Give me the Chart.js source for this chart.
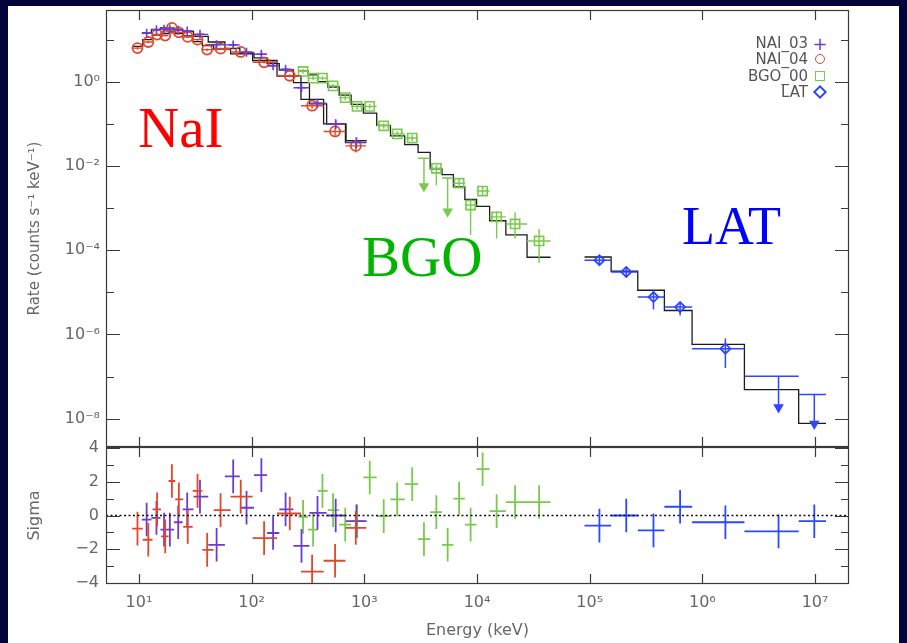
<!DOCTYPE html>
<html>
<head>
<meta charset="utf-8">
<script src="https://cdn.jsdelivr.net/npm/chart.js@4.4.1/dist/chart.umd.min.js"></script>
<style>
  html, body { margin: 0; padding: 0; width: 907px; height: 643px; overflow: hidden; background: #03033a; }
  #sheet { position: absolute; left: 8px; top: 6px; width: 891px; height: 637px; background: #fff; }
  canvas { position: absolute; left: 0; }
  #topChart { top: -20px; }
  #botChart { top: 427px; }
  .tag { position: absolute; font-family: "Liberation Serif", "DejaVu Serif", serif; line-height: 1; white-space: nowrap; }
  #legend { position: absolute; right: 79px; top: 35px; font: 15px "DejaVu Sans", sans-serif; color: #555; }
  #legend .row { display: flex; justify-content: flex-end; align-items: center; height: 16.3px; }
  #legend .sym { width: 16px; margin-left: 4px; display: flex; justify-content: center; align-items: center; }
</style>
</head>
<body>
<div id="sheet"></div>
<canvas id="topChart" width="907" height="497"></canvas>
<canvas id="botChart" width="907" height="216"></canvas>

<div class="tag" style="left:138px; top:99px; font-size:57px; color:#ff0000;">NaI</div>
<div class="tag" style="left:362px; top:228px; font-size:57px; color:#00b400;">BGO</div>
<div class="tag" style="left:682px; top:199px; font-size:54px; color:#0000ff;">LAT</div>

<div id="legend">
  <div class="row"><span>NAI_03</span><span class="sym" style="color:#6a3cd4;font-size:18px;">+</span></div>
  <div class="row"><span>NAI_04</span><span class="sym"><span style="width:8px;height:8px;border:1.4px solid #e2472b;border-radius:50%;"></span></span></div>
  <div class="row"><span>BGO_00</span><span class="sym"><span style="width:8px;height:8px;border:1.4px solid #79c94c;"></span></span></div>
  <div class="row"><span>LAT</span><span class="sym"><span style="width:6px;height:6px;border:2px solid #2d46ff;transform:rotate(45deg);"></span></span></div>
</div>

<script>
// axis ranges and tick decades
const X_MIN = 5.1, X_MAX = 2.0e7;
const RATE_MIN = 2.12e-9, RATE_MAX = 50.6;
const SIG_MIN = -4.07, SIG_MAX = 4.07;
const energyDecades = [1, 2, 3, 4, 5, 6, 7];
const rateDecades = [-8, -7, -6, -5, -4, -3, -2, -1, 0, 1];
const sigmaTicks = [-4, -3, -2, -1, 0, 1, 2, 3, 4];

// NAI_03 (purple)
const n03E = [11.7, 14.3, 16.7, 18.8, 22.3, 26.8, 34.8, 48.9, 68.6, 90.1, 122, 155, 200, 277, 384, 557, 851];
const n03Edges = [10.6, 12.9, 15.5, 17.7, 20.5, 24.4, 30.5, 41.2, 57.9, 78.6, 105, 137, 176, 235, 326, 463, 688, 1050];
const n03Rate = [14.2, 17.2, 17.6, 17.8, 16.8, 16.1, 13.4, 7.6, 7.5, 5.0, 4.5, 2.4, 1.97, 0.72, 0.31, 0.1, 0.037];
const n03Lo = [13.4, 16.3, 16.7, 16.9, 15.9, 15.2, 12.6, 7.1, 6.9, 4.6, 4.1, 2.2, 1.8, 0.62, 0.26, 0.075, 0.026];
const n03Hi = [15, 18.1, 18.5, 18.7, 17.7, 17, 14.2, 8.1, 8.1, 5.4, 4.9, 2.6, 2.15, 0.82, 0.36, 0.125, 0.048];
const n03Model = [14.5, 17.5, 19, 19, 17.5, 15.5, 12, 8.8, 6.2, 4.8, 3.7, 2.7, 1.9, 0.95, 0.3, 0.1, 0.04];
const n03Sigma = [-0.24, -0.14, -0.84, -0.84, -0.4, 0.36, 1.12, -1.74, 2.32, 0.46, 2.4, -1.04, 0.36, -1.8, 0.16, 0, -0.34];

// NAI_04 (red)
const n04E = [9.7, 12.1, 14.5, 17.1, 19.6, 22.6, 27.1, 33.1, 40.3, 53, 80, 129, 218, 344, 550, 840];
const n04Edges = [8.7, 10.8, 13.2, 15.7, 18.3, 21, 24.7, 30, 36.5, 46, 65, 102, 168, 274, 435, 680, 1040];
const n04Rate = [6.3, 8.8, 13.2, 12.5, 19, 14.9, 11.6, 10, 5.8, 6.1, 5.1, 2.9, 1.39, 0.27, 0.066, 0.030];
const n04Lo = [5.8, 8.2, 12.4, 11.8, 18, 14.1, 10.9, 9.4, 5.4, 5.7, 4.8, 2.7, 1.28, 0.23, 0.053, 0.021];
const n04Hi = [6.8, 9.4, 14, 13.2, 20, 15.7, 12.3, 10.6, 6.2, 6.5, 5.4, 3.1, 1.5, 0.31, 0.079, 0.039];
const n04Model = [6.9, 10, 12.8, 14, 16, 14, 12.3, 9, 7.2, 6, 4.6, 3.2, 1.37, 0.38, 0.1, 0.036];
const n04Sigma = [-0.78, -1.44, 0.36, -1.24, 2.05, 0.96, -0.68, 1.46, -2.04, 0.32, 1.12, -1.34, 0.12, -3.33, -2.69, -0.74];

// BGO_00 (green), ul = upper limit
const bgoE = [286, 351, 425, 528, 677, 862, 1117, 1486, 1958, 2660, 3383, 4357, 5488, 6937, 8770, 11210, 14930, 21770, 35550];
const bgoEdges = [260, 317, 386, 474, 598, 764, 981, 1288, 1706, 2282, 3000, 3840, 4890, 6170, 7800, 9915, 12940, 18030, 27800, 45000];
const bgoRate = [1.76, 1.22, 1.22, 0.80, 0.42, 0.26, 0.26, 0.090, 0.058, 0.046, 0.0152, 0.0088, 0.0052, 0.0039, 0.00118, 0.00254, 6.2e-4, 4.2e-4, 1.66e-4];
const bgoLo = [1.55, 1.08, 1.1, 0.71, 0.37, 0.22, 0.23, 0.078, 0.049, 0.039, 0.0033, 0.0035, 8.3e-4, 0.0030, 2.3e-4, 0.0019, 1.9e-4, 1.9e-4, 5e-5];
const bgoHi = [2.0, 1.37, 1.36, 0.9, 0.48, 0.3, 0.3, 0.103, 0.068, 0.055, 0.0152, 0.0106, 0.0052, 0.0052, 0.0016, 0.0033, 8.3e-4, 8e-4, 3.2e-4];
const bgoUL = [0, 0, 0, 0, 0, 0, 0, 0, 0, 0, 1, 0, 1, 0, 0, 0, 0, 0, 0];
const bgoModel = [1.78, 1.45, 1.0, 0.75, 0.48, 0.29, 0.18, 0.092, 0.052, 0.032, 0.021, 0.0085, 0.0062, 0.0032, 0.0016, 0.0011, 5.0e-4, 2.3e-4, 6.8e-5];
const bgoSigma = [-0.08, -0.84, 1.46, 0.32, -0.54, -0.34, 2.26, -0.04, 0.96, 1.86, -1.40, 0.2, -1.74, 1.0, -0.54, 2.75, 0.26, 0.8, 0.8];

// LAT (blue)
const latE = [1.22e5, 2.11e5, 3.68e5, 6.34e5, 1.60e6, 4.74e6, 9.84e6];
const latEdges = [9.0e4, 1.55e5, 2.67e5, 4.6e5, 8.1e5, 2.36e6, 7.15e6, 1.25e7];
const latRate = [5.78e-5, 3.04e-5, 7.7e-6, 4.47e-6, 4.57e-7, 1.02e-7, 3.73e-8];
const latLo = [4.6e-5, 2.3e-5, 3.9e-6, 2.8e-6, 1.6e-7, 1.86e-8, 7.5e-9];
const latHi = [7.2e-5, 4.0e-5, 1.12e-5, 5.9e-6, 8.0e-7, 1.02e-7, 3.73e-8];
const latUL = [0, 0, 0, 0, 0, 1, 1];
const latModel = [6.9e-5, 3.16e-5, 1.12e-5, 3.7e-6, 5.8e-7, 4.9e-8, 7.7e-9];
const latSigma = [-0.6, 0, -0.88, 0.52, -0.4, -0.94, -0.34];

const C_N03 = '#6a3cd4', C_N04 = '#e2472b', C_BGO = '#79c94c', C_LAT = '#2d46ff', C_MODEL = '#1c1c1c';

const SUP = { '-': '⁻', '0': '⁰', '1': '¹', '2': '²', '3': '³', '4': '⁴', '5': '⁵', '6': '⁶', '7': '⁷', '8': '⁸', '9': '⁹' };
const sup = n => String(n).split('').map(c => SUP[c]).join('');

Chart.defaults.font.family = '"DejaVu Sans", sans-serif';
Chart.defaults.animation = false;

// horizontal bin bars, one segment per bin, broken by null points
function hBars(edges, vals) {
  const pts = [];
  vals.forEach((v, i) => {
    pts.push({ x: edges[i], y: v }, { x: edges[i + 1], y: v }, { x: edges[i + 1], y: null });
  });
  return pts;
}
// vertical error bars
function vBars(xs, lo, hi) {
  const pts = [];
  xs.forEach((x, i) => {
    pts.push({ x: x, y: lo[i] }, { x: x, y: hi[i] }, { x: x, y: null });
  });
  return pts;
}
// histogram steps for the model
function steps(edges, vals) {
  const pts = vals.map((v, i) => ({ x: edges[i], y: v }));
  pts.push({ x: edges[edges.length - 1], y: vals[vals.length - 1] });
  return pts;
}
// pick points; keep=true returns only the upper limits
function points(xs, ys, flags, keep = false) {
  const pts = [];
  xs.forEach((x, i) => { if (!!(flags && flags[i]) === keep) pts.push({ x: x, y: ys[i] }); });
  return pts;
}

function lineSet(data, color, width, extra) {
  return Object.assign({ data: data, borderColor: color, borderWidth: width, pointRadius: 0, fill: false, tension: 0, spanGaps: false }, extra || {});
}
function markerSet(data, color, style, radius, extra) {
  return Object.assign({ data: data, showLine: false, pointStyle: style, pointRadius: radius, borderColor: color,
    pointBorderColor: color, pointBackgroundColor: 'rgba(0,0,0,0)', pointBorderWidth: 1.6 }, extra || {});
}

// frame with inward ticks on all four sides
const framePlugin = {
  id: 'frame',
  afterDatasetsDraw(chart, args, opts) {
    const { ctx, chartArea: a } = chart;
    const xs = chart.scales.x, ys = chart.scales.y;
    ctx.save();
    ctx.strokeStyle = '#3a3a3a';
    ctx.lineWidth = 1.2;
    ctx.strokeRect(a.left + 0.5, a.top + 0.5, a.width - 1, a.height - 1);
    ctx.beginPath();
    xs.ticks.forEach(t => {
      const px = Math.round(xs.getPixelForValue(t.value)) + 0.5;
      ctx.moveTo(px, a.top); ctx.lineTo(px, a.top + opts.xLen);
      ctx.moveTo(px, a.bottom); ctx.lineTo(px, a.bottom - opts.xLen);
    });
    ys.ticks.forEach(t => {
      const py = Math.round(ys.getPixelForValue(t.value)) + 0.5;
      const len = t.label ? opts.yMajor : opts.yMinor;
      ctx.moveTo(a.left, py); ctx.lineTo(a.left + len, py);
      ctx.moveTo(a.right, py); ctx.lineTo(a.right - len, py);
    });
    ctx.stroke();
    ctx.restore();
  }
};

const tickFont = { size: 16 };
const grey = '#666';

// ---------- top panel: spectrum ----------
const topSets = [
  // error bars
  lineSet(hBars(n03Edges, n03Rate), C_N03, 1.3),
  lineSet(vBars(n03E, n03Lo, n03Hi), C_N03, 1.3),
  lineSet(hBars(n04Edges, n04Rate), C_N04, 1.4),
  lineSet(vBars(n04E, n04Lo, n04Hi), C_N04, 1.4),
  lineSet(hBars(bgoEdges, bgoRate), C_BGO, 1.4),
  lineSet(vBars(bgoE, bgoLo, bgoHi), C_BGO, 1.4),
  lineSet(hBars(latEdges, latRate), C_LAT, 1.5),
  lineSet(vBars(latE, latLo, latHi), C_LAT, 1.5),
  // markers
  markerSet(points(n03E, n03Rate), C_N03, 'cross', 4.5),
  markerSet(points(n04E, n04Rate), C_N04, 'circle', 5, { pointBorderWidth: 1.8 }),
  markerSet(points(bgoE, bgoRate, bgoUL), C_BGO, 'rect', 6.5),
  markerSet(points(latE, latRate, latUL), C_LAT, 'rectRot', 5, { pointBorderWidth: 1.8 }),
  // upper-limit arrow heads
  markerSet(points(bgoE, bgoLo, bgoUL, true), C_BGO, 'triangle', 4.5, { pointRotation: 180, pointBackgroundColor: C_BGO }),
  markerSet(points(latE, latLo, latUL, true), C_LAT, 'triangle', 4.5, { pointRotation: 180, pointBackgroundColor: C_LAT }),
  // models
  lineSet(steps(n03Edges, n03Model), C_MODEL, 1.3, { stepped: 'before' }),
  lineSet(steps(n04Edges, n04Model), C_MODEL, 1.3, { stepped: 'before' }),
  lineSet(steps(bgoEdges, bgoModel), C_MODEL, 1.3, { stepped: 'before' }),
  lineSet(steps(latEdges, latModel), C_MODEL, 1.3, { stepped: 'before' })
];

new Chart(document.getElementById('topChart'), {
  type: 'line',
  data: { datasets: topSets },
  plugins: [framePlugin],
  options: {
    responsive: false,
    layout: { autoPadding: false, padding: { left: 0, top: 30, right: 58, bottom: 30 } },
    plugins: { legend: { display: false }, tooltip: { enabled: false }, frame: { xLen: 10, yMajor: 14, yMinor: 8 } },
    scales: {
      x: {
        type: 'logarithmic', min: X_MIN, max: X_MAX,
        grid: { display: false, drawTicks: false }, border: { display: false },
        ticks: { display: false, autoSkip: false },
        afterBuildTicks: s => { s.ticks = energyDecades.map(e => ({ value: Math.pow(10, e) })); },
        afterFit: s => { s.height = 0; }
      },
      y: {
        type: 'logarithmic', min: RATE_MIN, max: RATE_MAX,
        grid: { display: false, drawTicks: false }, border: { display: false },
        afterBuildTicks: s => { s.ticks = rateDecades.map(e => ({ value: Math.pow(10, e) })); },
        ticks: {
          autoSkip: false, color: grey, font: tickFont, padding: 6,
          callback: v => { const e = Math.round(Math.log10(v)); return e % 2 === 0 ? '10' + sup(e) : ''; }
        },
        title: { display: true, text: 'Rate (counts s⁻¹ keV⁻¹)', color: grey, font: { size: 15 }, padding: { top: 26 } },
        afterFit: s => { s.width = 106; }
      }
    }
  }
});

// ---------- bottom panel: residuals ----------
const botSets = [
  lineSet([{ x: X_MIN, y: 0 }, { x: X_MAX, y: 0 }], '#111', 1.6, { borderDash: [2, 2.5] }),
  lineSet(hBars(n04Edges, n04Sigma), C_N04, 1.8),
  lineSet(vBars(n04E, n04Sigma.map(s => s - 1), n04Sigma.map(s => s + 1)), C_N04, 1.8),
  lineSet(hBars(n03Edges, n03Sigma), C_N03, 1.8),
  lineSet(vBars(n03E, n03Sigma.map(s => s - 1), n03Sigma.map(s => s + 1)), C_N03, 1.8),
  lineSet(hBars(bgoEdges, bgoSigma), C_BGO, 1.8),
  lineSet(vBars(bgoE, bgoSigma.map(s => s - 1), bgoSigma.map(s => s + 1)), C_BGO, 1.8),
  lineSet(hBars(latEdges, latSigma), C_LAT, 1.8),
  lineSet(vBars(latE, latSigma.map(s => s - 1), latSigma.map(s => s + 1)), C_LAT, 1.8)
];

new Chart(document.getElementById('botChart'), {
  type: 'line',
  data: { datasets: botSets },
  plugins: [framePlugin],
  options: {
    responsive: false,
    layout: { autoPadding: false, padding: { left: 0, top: 20, right: 58, bottom: 0 } },
    plugins: { legend: { display: false }, tooltip: { enabled: false }, frame: { xLen: 10, yMajor: 14, yMinor: 8 } },
    scales: {
      x: {
        type: 'logarithmic', min: X_MIN, max: X_MAX,
        grid: { display: false, drawTicks: false }, border: { display: false },
        afterBuildTicks: s => { s.ticks = energyDecades.map(e => ({ value: Math.pow(10, e) })); },
        ticks: {
          autoSkip: false, maxRotation: 0, color: grey, font: tickFont, padding: 9,
          callback: v => '10' + sup(Math.round(Math.log10(v)))
        },
        title: { display: true, text: 'Energy (keV)', color: grey, font: { size: 16 }, padding: { bottom: 3 } },
        afterFit: s => { s.height = 59; }
      },
      y: {
        type: 'linear', min: SIG_MIN, max: SIG_MAX,
        grid: { display: false, drawTicks: false }, border: { display: false },
        afterBuildTicks: s => { s.ticks = sigmaTicks.map(v => ({ value: v })); },
        ticks: {
          autoSkip: false, color: grey, font: tickFont, padding: 7,
          callback: v => v % 2 === 0 ? (v < 0 ? '−' + (-v) : String(v)) : ''
        },
        title: { display: true, text: 'Sigma', color: grey, font: { size: 16 }, padding: { top: 25 } },
        afterFit: s => { s.width = 106; }
      }
    }
  }
});
</script>
</body>
</html>
